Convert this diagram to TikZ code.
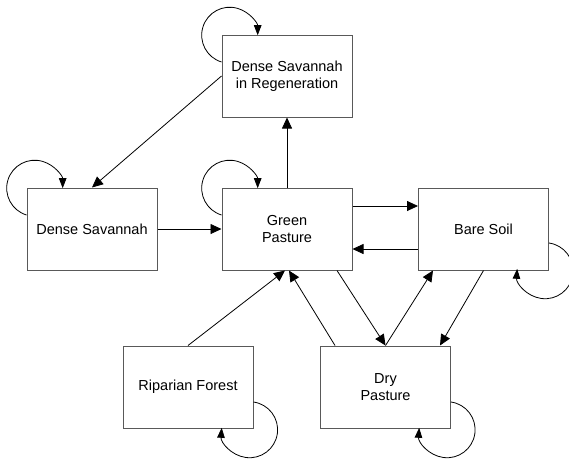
\documentclass[tikz,border=0pt]{standalone}
\usepackage{fontspec}
\setmainfont{Liberation Sans}
\usepackage{tikz}
\usetikzlibrary{arrows.meta}

\begin{document}
\begin{tikzpicture}
    \tikzstyle{dedge} = [line width=0.8pt,-{Triangle[length=11pt,width=10pt]},draw=black]
    \tikzstyle{ledge} = [line width=0.8pt,-{Triangle[length=10pt,width=7.5pt]},draw=black]
    \tikzstyle{state}=[
      rectangle,
      draw=black!65,
      line width=1pt,
      minimum width=130pt,
      minimum height=82pt,
      align=center,
      font=\fontsize{14.5}{17.5}\selectfont,
    ]

    \coordinate (origin) at (0,0);
    \useasboundingbox (origin) rectangle ([xshift=569pt, yshift=-459pt] origin);

    % states
    {
      \node[state] (dsr) at ([xshift=287pt, yshift=-76pt] origin) {Dense Savannah\\in Regeneration};
      \node[state] (ds) at ([xshift=92pt, yshift=-229pt] origin) {Dense Savannah};
      \node[state] (gp) at ([xshift=287pt, yshift=-229pt] origin) {Green\\Pasture};
      \node[state] (bs) at ([xshift=483.5pt, yshift=-229pt] origin) {Bare Soil};
      \node[state] (rf) at ([xshift=188pt, yshift=-387pt] origin) {Riparian Forest};
      \node[state] (dp) at ([xshift=385.5pt, yshift=-387pt] origin) {Dry\\Pasture};
    }

    % transitions
    {
      \draw[dedge] (dsr.west)--(ds.north);
      \draw[dedge] (ds.east)--(gp.west);
      \draw[dedge] (gp.north)--(dsr.south);
      \draw[dedge] ([yshift=23pt] gp.east)--([yshift=23pt] bs.west);
      \draw[dedge] ([yshift=-20pt] bs.west)--([yshift=-20pt] gp.east);
      \draw[dedge] (rf.north)--([xshift=-2pt] gp.south);
      \draw[dedge] ([xshift=-50.5pt] dp.north)--([xshift=2pt] gp.south);
      \draw[dedge] ([xshift=50pt] gp.south)--(dp.north);
      \draw[dedge] (dp.north)--([xshift=-50.5pt] bs.south);
      \draw[dedge] (bs.south)--([xshift=54.5pt] dp.north);
    }

    % self loops
    {
      \draw[ledge] ([yshift=14pt] dsr.west) arc[start angle=253, end angle=0, radius=28pt];
      \draw[ledge] ([yshift=14pt] ds.west) arc[start angle=253, end angle=0, radius=28pt];
      \draw[ledge] ([yshift=14pt] gp.west) arc[start angle=253, end angle=0, radius=28pt];
      \draw[ledge] ([yshift=-14pt] bs.east) arc[start angle=82, end angle=-184, radius=28pt];
      \draw[ledge] ([yshift=-15pt] rf.east) arc[start angle=82, end angle=-184, radius=28pt];
      \draw[ledge] ([yshift=-15pt] dp.east) arc[start angle=82, end angle=-184, radius=28pt];
    }
\end{tikzpicture}
\end{document}
